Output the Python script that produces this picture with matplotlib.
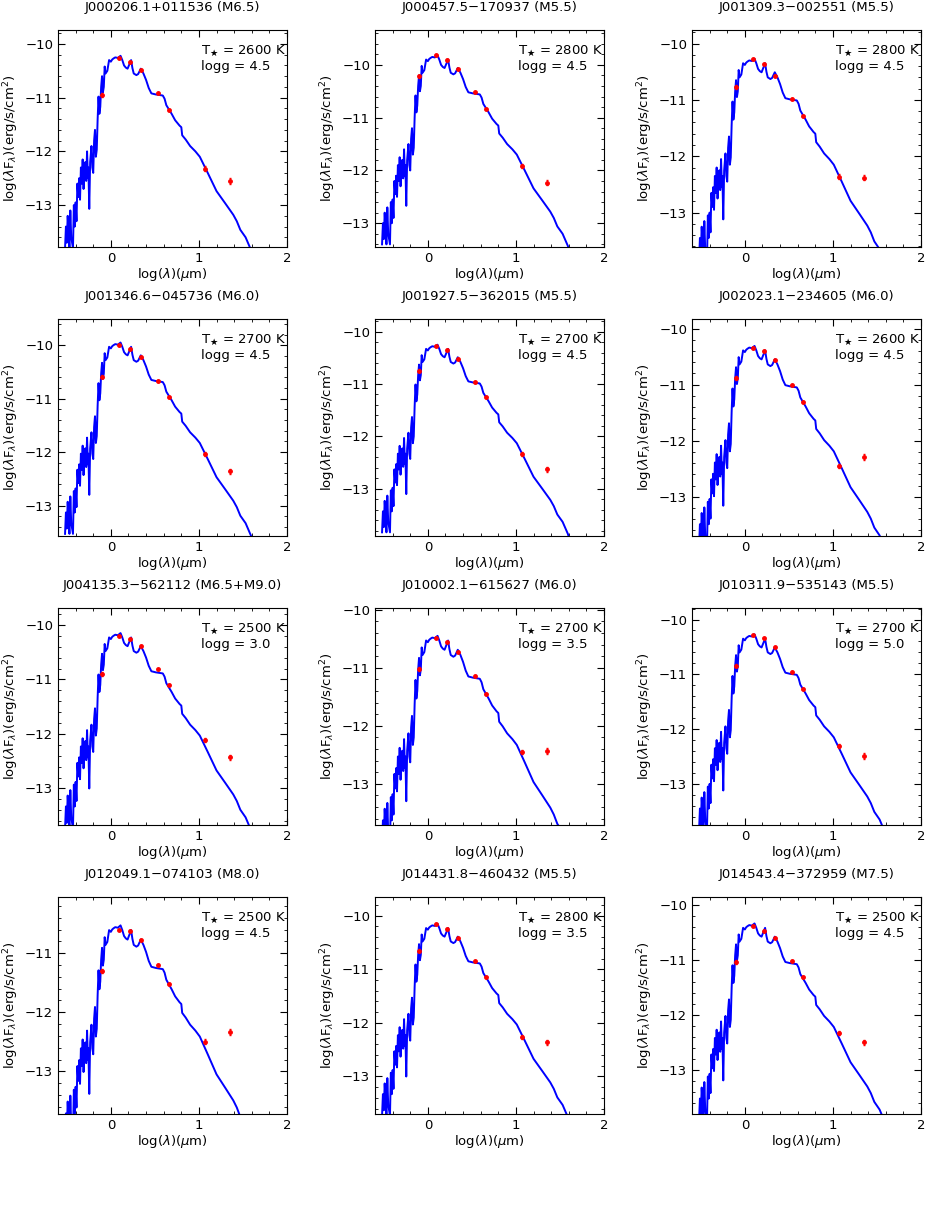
import numpy as np
import matplotlib
matplotlib.use('Agg')
import matplotlib.pyplot as plt
from matplotlib.ticker import MultipleLocator

# model spectrum shape (absolute values for peak -10.22)
TEMPLATE_X = [-0.52, -0.51, -0.50, -0.49, -0.48, -0.47, -0.46, -0.45, -0.43, -0.42, -0.41, -0.40, -0.39,
              -0.38, -0.37, -0.36, -0.35, -0.34, -0.33, -0.32, -0.31, -0.30, -0.29, -0.28, -0.27, -0.26,
              -0.255, -0.245, -0.235, -0.23, -0.22, -0.21, -0.20, -0.19, -0.18, -0.17, -0.16, -0.15, -0.14,
              -0.13, -0.12, -0.11, -0.10, -0.09, -0.08, -0.07, -0.06, -0.04, -0.02,
              0.0, 0.015, 0.03, 0.05, 0.08, 0.11, 0.13, 0.15, 0.17, 0.19, 0.21, 0.23, 0.245, 0.26, 0.29,
              0.31, 0.34, 0.37, 0.40, 0.43, 0.46, 0.51, 0.55, 0.59, 0.61, 0.63, 0.66, 0.69, 0.73, 0.78,
              0.80, 0.81, 0.85, 0.90, 0.96, 1.01, 1.10, 1.20, 1.30, 1.39, 1.43, 1.47, 1.53, 1.59, 1.62]
TEMPLATE_Y = [-13.8, -13.4, -13.7, -13.2, -13.5, -13.8, -13.1, -13.6, -13.8, -13.0, -13.4, -12.95, -13.3,
              -12.6, -12.85, -12.5, -12.9, -12.3, -12.6, -12.15, -12.7, -12.4, -12.2, -12.55, -12.0, -12.5,
              -12.3, -13.07, -12.2, -12.1, -11.9, -12.3, -12.4, -11.8, -11.6, -12.1, -11.97, -11.4, -10.98,
              -11.3, -11.17, -10.8, -10.6, -10.9, -10.8, -10.42, -10.55, -10.5,
              -10.3, -10.33, -10.29, -10.27, -10.25, -10.26, -10.22, -10.3, -10.4, -10.44, -10.46, -10.38,
              -10.3, -10.45, -10.55, -10.58, -10.56, -10.46, -10.55, -10.67, -10.82, -10.92, -10.94, -10.95,
              -10.96, -11.02, -11.14, -11.22, -11.3, -11.42, -11.52, -11.55, -11.7, -11.78, -11.9, -12.0,
              -12.1, -12.4, -12.74, -12.97, -13.18, -13.3, -13.46, -13.6, -13.83, -14.0]
TEMPLATE_PEAK = -10.22

names = ['J000206.1+011536 (M6.5)', 'J000457.5\u2212170937 (M5.5)', 'J001309.3\u2212002551 (M5.5)',
         'J001346.6\u2212045736 (M6.0)', 'J001927.5\u2212362015 (M5.5)', 'J002023.1\u2212234605 (M6.0)',
         'J004135.3\u2212562112 (M6.5+M9.0)', 'J010002.1\u2212615627 (M6.0)', 'J010311.9\u2212535143 (M5.5)',
         'J012049.1\u2212074103 (M8.0)', 'J014431.8\u2212460432 (M5.5)', 'J014543.4\u2212372959 (M7.5)']
teff = [2600, 2800, 2800, 2700, 2700, 2600, 2500, 2700, 2700, 2500, 2800, 2500]
logg = [4.5, 4.5, 4.5, 4.5, 4.5, 4.5, 3.0, 3.5, 5.0, 4.5, 3.5, 4.5]
peaks = [-10.22, -9.82, -10.27, -9.95, -10.25, -10.31, -10.15, -10.45, -10.27, -10.53, -10.15, -10.34]
ylims = [(-13.78, -9.74), (-13.45, -9.34), (-13.61, -9.76), (-13.57, -9.51), (-13.9, -9.76), (-13.7, -9.83),
         (-13.67, -9.69), (-13.71, -9.97), (-13.75, -9.79), (-13.72, -10.05), (-13.7, -9.65), (-13.8, -9.86)]

# photometry: I, J, H, K, W1, W2, W3, W4
phot_x = [-0.10, 0.09, 0.22, 0.34, 0.53, 0.66, 1.07, 1.35]
phot_y = [
    [-10.95, -10.27, -10.33, -10.48, -10.92, -11.23, -12.32, -12.55],
    [-10.22, -9.82, -9.90, -10.08, -10.52, -10.83, -11.91, -12.23],
    [-10.77, -10.28, -10.37, -10.57, -10.98, -11.28, -12.36, -12.38],
    [-10.59, -10.00, -10.07, -10.23, -10.67, -10.97, -12.03, -12.36],
    [-10.75, -10.27, -10.35, -10.52, -10.97, -11.25, -12.33, -12.63],
    [-10.88, -10.34, -10.40, -10.57, -11.01, -11.31, -12.45, -12.29],
    [-10.90, -10.20, -10.25, -10.38, -10.81, -11.10, -12.11, -12.43],
    [-11.02, -10.48, -10.56, -10.72, -11.14, -11.45, -12.45, -12.43],
    [-10.84, -10.29, -10.34, -10.51, -10.95, -11.26, -12.31, -12.49],
    [-11.30, -10.60, -10.62, -10.77, -11.20, -11.52, -12.50, -12.33],
    [-10.65, -10.16, -10.24, -10.42, -10.85, -11.15, -12.26, -12.36],
    [-11.04, -10.38, -10.47, -10.60, -11.02, -11.31, -12.33, -12.50],
]
phot_err = [0.03, 0.01, 0.01, 0.01, 0.01, 0.01, 0.04, 0.05]

fig = plt.figure(figsize=(9.26, 12.07), dpi=100)
W, H = 926.0, 1207.0
lefts = [58, 375, 692]
tops = [30, 319, 608, 897]
tx = np.array(TEMPLATE_X)
ty = np.array(TEMPLATE_Y)
fs = 9.5

for i in range(12):
    r, c = divmod(i, 3)
    ax = fig.add_axes([lefts[c] / W, 1 - (tops[r] + 217) / H, 229 / W, 217 / H])
    ax.plot(tx, ty + (peaks[i] - TEMPLATE_PEAK), color='blue', lw=1.4)
    ax.errorbar(phot_x, phot_y[i], yerr=phot_err, fmt='o', color='red', ms=2.5,
                elinewidth=0.8, capsize=1, zorder=3)
    ax.set_xlim(-0.6, 2.0)
    ax.set_ylim(*ylims[i])
    ax.xaxis.set_major_locator(MultipleLocator(1))
    ax.xaxis.set_minor_locator(MultipleLocator(0.2))
    ax.yaxis.set_major_locator(MultipleLocator(1))
    ax.yaxis.set_minor_locator(MultipleLocator(0.2))
    ax.tick_params(which='both', direction='in', top=True, right=True, labelsize=fs)
    ax.tick_params(which='major', length=5)
    ax.tick_params(which='minor', length=2.5)
    ax.set_xlabel(r'log($\lambda$)($\mu$m)', fontsize=fs, labelpad=1)
    ax.set_ylabel(r'log($\lambda$F$_\lambda$)(erg/s/cm$^2$)', fontsize=fs, labelpad=3)
    ax.set_title(names[i], fontsize=fs, pad=14)
    ax.text(0.625, 0.94, 'T$_\\bigstar$ = %d K\nlogg = %.1f' % (teff[i], logg[i]),
            transform=ax.transAxes, ha='left', va='top', fontsize=fs, linespacing=1.25)

fig.savefig('out.png', dpi=100)
